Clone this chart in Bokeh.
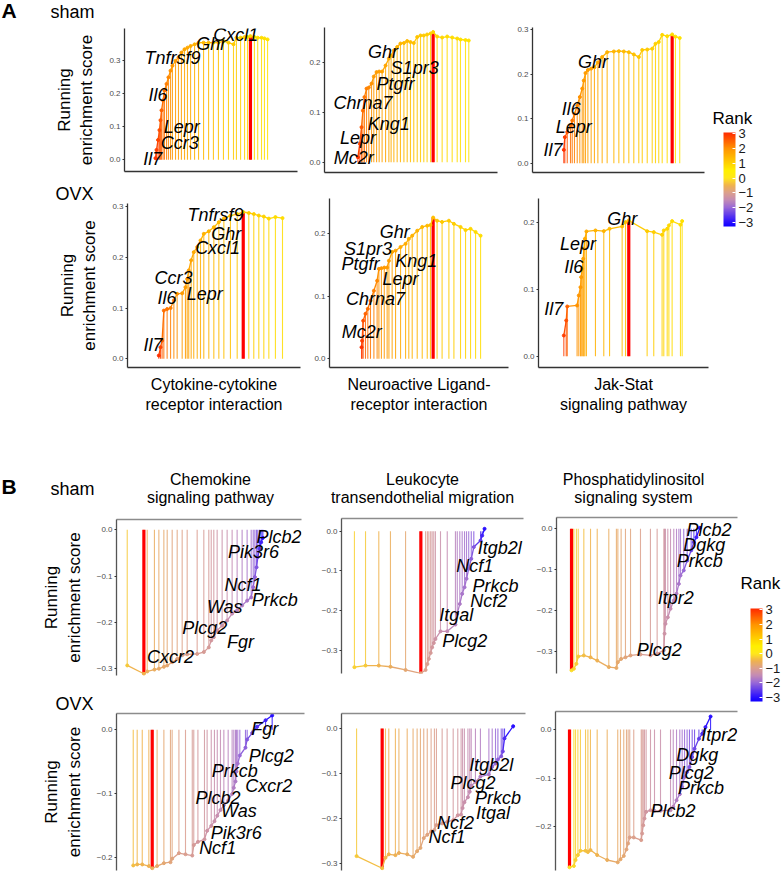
import numpy as np
from bokeh.plotting import figure
from bokeh.models import (ColumnDataSource, LinearColorMapper, ColorBar, FixedTicker,
                          Label, LabelSet, Range1d)
from bokeh.layouts import row, column
from bokeh.core.properties import value
from bokeh.embed import file_html
from bokeh.resources import INLINE

FONT = "Liberation Sans"
MINUS = "\u2212"

# ---------------- data (x = position along ranked list, % ; es = running ES ; rank = colour value)
A1_x = [17.9,18.5,19.4,20.2,20.8,21.4,22.3,23.1,24.3,25.4,26.6,27.7,29.5,31.2,32.9,34.7,36.4,38.2,40.5,42.8,45.7,48.6,51.4,54.3,57.2,60.1,63.0,64.7,67.1,69.4,71.1,72.8,75.1,77.0,79.2,80.9,82.7]
A1_es = [0.005,0.03,0.06,0.09,0.12,0.15,0.18,0.21,0.23,0.25,0.27,0.285,0.30,0.31,0.325,0.335,0.34,0.345,0.35,0.355,0.355,0.355,0.355,0.355,0.36,0.355,0.35,0.37,0.37,0.372,0.372,0.375,0.372,0.37,0.37,0.368,0.365]
A1_rank = [3.0,2.9,2.8,2.7,2.6,2.5,2.4,2.3,2.2,2.1,2.0,1.95,1.9,1.85,1.8,1.7,1.65,1.6,1.5,1.45,1.4,1.35,1.3,1.25,1.2,1.15,1.1,1.05,1.0,0.95,0.9,0.9,0.85,0.8,0.8,0.75,0.7]
A1_genes = ["Il7","Ccr3","Lepr","Il6","Tnfrsf9","Ghr","Cxcl1"]
A1_gx = [16.3,31.9,33.1,19.4,27.7,50.2,64.3]
A1_gy = [0.003,0.051,0.099,0.195,0.31,0.3515,0.379]

A2_x = [19.3,20.4,21.4,22.2,23.1,24.3,25.6,27.2,28.5,30.1,31.6,33.3,35.3,37.2,38.5,40.1,42.0,43.9,45.9,47.8,49.7,51.6,53.6,55.5,57.4,59.3,61.3,62.8,65.1,68.0,70.9,73.8,76.7,78.6,81.5,83.4]
A2_es = [0.010,0.037,0.070,0.103,0.130,0.147,0.149,0.157,0.171,0.180,0.181,0.181,0.193,0.207,0.213,0.223,0.230,0.237,0.238,0.242,0.240,0.238,0.250,0.253,0.253,0.255,0.257,0.260,0.251,0.249,0.251,0.249,0.247,0.245,0.244,0.243]
A2_rank = [3.0,2.8,2.6,2.4,2.3,2.2,2.1,2.0,1.9,1.85,1.8,1.75,1.7,1.65,1.6,1.55,1.5,1.45,1.4,1.35,1.3,1.25,1.2,1.15,1.1,1.05,1.0,1.0,0.95,0.9,0.85,0.8,0.8,0.75,0.7,0.7]
A2_genes = ["Mc2r","Lepr","Kng1","Chrna7","Ptgfr","S1pr3","Ghr"]
A2_gx = [16.9,19.4,37.2,22.3,41.0,52.1,33.8]
A2_gy = [0.008,0.048,0.077,0.118,0.156,0.189,0.22]

A3_x = [18.2,18.8,20.2,22.1,23.1,24.4,26.0,27.5,28.9,29.8,30.8,32.2,34.1,36.0,38.0,40.5,43.4,47.3,50.2,53.1,56.0,58.9,61.8,63.8,66.7,69.6,71.5,73.4,75.4,78.3,81.2,83.1,85.6]
A3_es = [0.03,0.0586,0.070,0.085,0.096,0.111,0.130,0.149,0.168,0.186,0.203,0.210,0.213,0.216,0.227,0.239,0.250,0.2516,0.2523,0.2516,0.250,0.245,0.239,0.255,0.256,0.258,0.269,0.273,0.289,0.286,0.290,0.285,0.282]
A3_rank = [3.0,2.9,2.6,2.4,2.3,2.2,2.1,2.0,1.95,1.9,1.85,1.8,1.75,1.7,1.65,1.6,1.5,1.45,1.4,1.35,1.3,1.25,1.2,1.15,1.1,1.05,1.0,0.95,0.9,0.85,0.8,0.75,0.7]
A3_genes = ["Il7","Lepr","Il6","Ghr"]
A3_gx = [11.9,24.0,22.6,35.2]
A3_gy = [0.0286,0.081,0.122,0.227]

A4_x = [18.1,19.1,20.0,21.0,22.9,24.9,26.8,28.7,31.6,33.5,34.5,35.4,36.8,38.3,40.3,42.2,44.1,47.0,49.9,52.8,55.7,59.5,63.4,66.9,70.1,73.0,75.9,78.8,81.7,85.5,89.6]
A4_es = [0.0065,0.023,0.036,0.095,0.098,0.10,0.115,0.128,0.129,0.141,0.157,0.174,0.194,0.21,0.22,0.233,0.246,0.251,0.259,0.269,0.276,0.282,0.285,0.289,0.287,0.285,0.282,0.28,0.276,0.279,0.277]
A4_rank = [3.0,2.8,2.6,2.4,2.3,2.2,2.1,2.0,1.9,1.85,1.8,1.75,1.7,1.65,1.6,1.55,1.5,1.45,1.4,1.35,1.3,1.25,1.2,1.15,1.1,1.05,1.0,0.95,0.9,0.85,0.8]
A4_genes = ["Il7","Il6","Lepr","Ccr3","Cxcl1","Ghr","Tnfrsf9"]
A4_gx = [14.7,22.9,44.6,26.6,52.1,57.1,50.9]
A4_gy = [0.028,0.12,0.128,0.159,0.219,0.246,0.284]

A5_x = [17.9,18.2,18.8,20.1,21.4,22.9,24.8,26.6,27.6,29.0,30.6,32.2,33.2,35.0,36.9,39.7,42.5,44.3,46.2,49.0,51.8,54.6,56.4,57.9,60.1,62.9,66.7,69.5,73.2,76.0,78.8,81.6,84.4]
A5_es = [0.0186,0.029,0.061,0.072,0.08,0.093,0.109,0.125,0.144,0.145,0.146,0.146,0.157,0.171,0.173,0.179,0.184,0.192,0.197,0.205,0.211,0.213,0.214,0.226,0.221,0.219,0.221,0.216,0.211,0.206,0.208,0.203,0.197]
A5_rank = [3.0,2.9,2.7,2.5,2.4,2.3,2.2,2.1,2.0,1.95,1.9,1.85,1.8,1.75,1.7,1.65,1.6,1.55,1.5,1.45,1.4,1.35,1.3,1.25,1.2,1.15,1.1,1.05,1.0,0.95,0.9,0.85,0.8]
A5_genes = ["Mc2r","Chrna7","Lepr","Ptgfr","Kng1","S1pr3","Ghr"]
A5_gx = [18.0,25.7,39.7,17.3,48.5,21.5,36.4]
A5_gy = [0.043,0.096,0.128,0.151,0.156,0.176,0.203]

A6_x = [14.9,16.3,16.9,22.7,23.7,24.7,25.1,25.7,26.3,26.7,27.3,28.2,33.5,38.4,41.8,49.2,51.2,53.1,63.9,67.8,72.7,73.7,75.7,76.7,78.6,83.5,84.5]
A6_es = [0.031,0.0535,0.0745,0.076,0.091,0.1035,0.1185,0.131,0.146,0.161,0.176,0.187,0.1885,0.1875,0.191,0.1945,0.201,0.2035,0.1874,0.186,0.182,0.1885,0.191,0.196,0.2025,0.197,0.2025]
A6_rank = [2.9,2.7,2.5,2.0,1.95,1.9,1.85,1.8,1.75,1.7,1.65,1.6,1.5,1.45,1.4,1.3,1.25,1.2,1.1,1.05,1.0,0.95,0.9,0.88,0.85,0.8,0.75]
A6_genes = ["Il7","Il6","Lepr","Ghr"]
A6_gx = [9.0,20.8,23.2,49.2]
A6_gy = [0.071,0.133,0.168,0.206]

B7_x = [5.8,14.8,16.6,20.5,22.9,25.6,27.4,30.1,32.8,35.5,38.2,43.6,47.2,49.9,51.2,52.6,54.4,57.1,59.8,62.5,65.2,67.9,70.6,72.8,73.9,74.8,75.7,76.4,77.3,78.2,79.1]
B7_es = [-0.293,-0.311,-0.306,-0.302,-0.300,-0.296,-0.293,-0.286,-0.279,-0.271,-0.269,-0.268,-0.264,-0.254,-0.239,-0.232,-0.2175,-0.207,-0.196,-0.181,-0.174,-0.1635,-0.153,-0.146,-0.124,-0.102,-0.081,-0.059,-0.041,-0.027,-0.0175]
B7_rank = [-0.3,-0.5,-0.6,-0.65,-0.7,-0.75,-0.8,-0.85,-0.9,-0.95,-1.0,-1.05,-1.1,-1.15,-1.2,-1.25,-1.3,-1.35,-1.4,-1.5,-1.6,-1.7,-1.8,-1.9,-2.0,-2.1,-2.2,-2.4,-2.6,-2.8,-3.0]
B7_genes = ["Plcb2","Pik3r6","Ncf1","Prkcb","Was","Plcg2","Fgr","Cxcr2"]
B7_gx = [87.8,74.1,68.4,85.5,58.5,47.7,67.0,29.2]
B7_gy = [-0.016,-0.048,-0.1185,-0.151,-0.166,-0.212,-0.243,-0.275]

B8_x = [7.1,13.2,20.5,26.9,35.2,43.6,46.2,47.2,48.0,49.0,49.8,50.7,51.6,54.4,58.1,62.6,63.6,65.0,66.3,67.6,68.7,69.9,71.3,72.7,76.4,77.3,78.6]
B8_es = [-0.343,-0.339,-0.339,-0.342,-0.350,-0.3586,-0.350,-0.335,-0.322,-0.307,-0.293,-0.282,-0.272,-0.2525,-0.2525,-0.2356,-0.2086,-0.1834,-0.158,-0.1414,-0.120,-0.095,-0.0697,-0.040,-0.0235,-0.011,0.006]
B8_rank = [-0.2,-0.3,-0.5,-0.6,-0.8,-0.9,-1.0,-1.05,-1.1,-1.15,-1.2,-1.25,-1.3,-1.4,-1.5,-1.6,-1.7,-1.75,-1.8,-1.85,-1.9,-2.0,-2.1,-2.2,-2.5,-2.8,-3.0]
B8_genes = ["Itgb2l","Ncf1","Prkcb","Ncf2","Itgal","Plcg2"]
B8_gx = [87.0,73.2,84.6,80.9,63.1,67.7]
B8_gy = [-0.042,-0.089,-0.139,-0.175,-0.211,-0.278]

B9_x = [8.3,9.6,11.0,12.0,15.1,18.8,22.5,28.9,33.1,33.9,35.7,38.1,40.9,46.4,51.9,55.6,59.3,59.7,60.2,61.5,63.0,64.8,66.3,67.6,68.5,70.3,72.2,74.4,75.9,77.3,79.2]
B9_es = [-0.347,-0.343,-0.331,-0.313,-0.3105,-0.315,-0.323,-0.339,-0.341,-0.327,-0.319,-0.315,-0.3105,-0.308,-0.3105,-0.306,-0.298,-0.257,-0.233,-0.217,-0.196,-0.176,-0.159,-0.135,-0.1145,-0.102,-0.078,-0.053,-0.033,-0.0206,0.0025]
B9_rank = [-0.1,-0.2,-0.25,-0.3,-0.4,-0.5,-0.55,-0.65,-0.7,-0.75,-0.8,-0.85,-0.9,-1.0,-1.1,-1.15,-1.2,-1.3,-1.35,-1.4,-1.5,-1.6,-1.7,-1.8,-1.9,-2.0,-2.2,-2.4,-2.6,-2.8,-3.0]
B9_genes = ["Plcb2","Dgkg","Prkcb","Itpr2","Plcg2"]
B9_gx = [84.2,81.7,79.2,65.9,56.8]
B9_gy = [-0.002,-0.039,-0.08,-0.17,-0.296]

B10_x = [8.9,11.0,13.7,17.2,19.0,21.6,25.2,28.7,29.6,33.2,36.7,40.3,41.1,43.3,46.8,48.2,50.4,52.1,53.6,55.3,57.1,59.4,61.5,62.4,63.3,63.8,64.5,65.6,68.6,69.5,72.2,74.8,79.3,82.8]
B10_es = [-0.213,-0.2115,-0.2115,-0.214,-0.2175,-0.214,-0.2095,-0.208,-0.2024,-0.1938,-0.1955,-0.1975,-0.181,-0.176,-0.172,-0.1586,-0.151,-0.1435,-0.1349,-0.126,-0.1183,-0.111,-0.1007,-0.091,-0.081,-0.0654,-0.053,-0.0403,-0.028,-0.0151,-0.005,0.0050,0.0151,0.0227]
B10_rank = [-0.4,-0.45,-0.5,-0.55,-0.6,-0.7,-0.8,-0.85,-0.9,-1.0,-1.05,-1.1,-1.15,-1.2,-1.25,-1.3,-1.35,-1.4,-1.45,-1.5,-1.55,-1.6,-1.65,-1.7,-1.75,-1.8,-1.9,-2.0,-2.1,-2.2,-2.4,-2.6,-2.8,-3.0]
B10_genes = ["Fgr","Plcg2","Prkcb","Cxcr2","Plcb2","Was","Pik3r6","Ncf1"]
B10_gx = [78.8,82.3,62.9,81.0,54.0,65.1,63.7,53.8]
B10_gy = [0.001,-0.0415,-0.065,-0.089,-0.107,-0.128,-0.162,-0.185]

B11_x = [8.2,22.1,23.9,25.7,29.3,31.2,35.7,38.9,41.1,42.9,44.7,46.6,48.7,50.5,51.6,54.7,57.4,60.7,63.2,65.0,65.8,66.8,68.7,69.7,70.5,72.8,75.5,80.1,81.9,83.7,85.0,86.8,87.7,88.6,93.3]
B11_es = [-0.284,-0.311,-0.2875,-0.280,-0.2818,-0.277,-0.280,-0.2855,-0.273,-0.2657,-0.2439,-0.2367,-0.229,-0.2257,-0.2148,-0.2112,-0.2076,-0.204,-0.1931,-0.1916,-0.177,-0.164,-0.153,-0.1406,-0.1275,-0.1188,-0.107,-0.1022,-0.0853,-0.078,-0.069,-0.0619,-0.051,-0.022,0.0051]
B11_rank = [-0.3,-0.4,-0.45,-0.5,-0.55,-0.6,-0.65,-0.7,-0.75,-0.8,-0.85,-0.9,-0.95,-1.0,-1.05,-1.1,-1.15,-1.2,-1.25,-1.3,-1.35,-1.4,-1.45,-1.5,-1.55,-1.6,-1.7,-1.8,-1.9,-2.0,-2.1,-2.2,-2.4,-2.7,-3.0]
B11_genes = ["Itgb2l","Plcg2","Prkcb","Itgal","Ncf2","Ncf1"]
B11_gx = [81.4,71.5,85.0,82.3,62.0,57.4]
B11_gy = [-0.082,-0.122,-0.155,-0.1875,-0.2094,-0.242]

B12_x = [7.7,10.1,11.0,12.3,13.7,16.5,17.8,19.2,22.9,28.4,34.2,35.7,37.5,39.0,39.9,40.8,43.0,47.1,47.6,48.2,48.9,49.8,52.2,54.4,57.7,63.2,64.7,66.5,68.3,69.6,70.9,72.3,73.6,75.1,76.4,78.8,80.6,82.4,85.2]
B12_es = [-0.2834,-0.2807,-0.2684,-0.2582,-0.2494,-0.2494,-0.252,-0.248,-0.2582,-0.2684,-0.2732,-0.267,-0.260,-0.2466,-0.2343,-0.222,-0.222,-0.2275,-0.2139,-0.197,-0.1831,-0.1694,-0.166,-0.1674,-0.1674,-0.166,-0.159,-0.1455,-0.133,-0.118,-0.0977,-0.0874,-0.0772,-0.0567,-0.0396,-0.0191,-0.0089,0.0048,0.0266]
B12_rank = [-0.1,-0.15,-0.2,-0.25,-0.3,-0.35,-0.4,-0.45,-0.5,-0.6,-0.7,-0.75,-0.8,-0.85,-0.9,-0.95,-1.0,-1.05,-1.1,-1.15,-1.2,-1.25,-1.3,-1.35,-1.4,-1.5,-1.6,-1.7,-1.8,-1.9,-2.0,-2.1,-2.2,-2.3,-2.4,-2.5,-2.7,-2.85,-3.0]
B12_genes = ["Itpr2","Dgkg","Plcg2","Prkcb","Plcb2"]
B12_gx = [90.0,77.9,74.6,80.0,64.6]
B12_gy = [-0.0106,-0.0516,-0.0891,-0.1213,-0.1676]

PATHWAYS_A = ["Cytokine-cytokine\nreceptor interaction", "Neuroactive Ligand-\nreceptor interaction", "Jak-Stat\nsignaling pathway"]
PATHWAYS_B = [("Chemokine", "signaling pathway"), ("Leukocyte", "transendothelial migration"),
              ("Phosphatidylinositol", "signaling system")]
RANK_TICKS = [-3, -2, -1, 0, 1, 2, 3]

# ---------------- colour scale
RANK_STOPS = [(-3.3, "#1000FF"), (-3.0, "#2A10FF"), (-2.0, "#9A6AD6"), (-1.5, "#C48CB4"),
              (-1.0, "#DCA08C"), (-0.5, "#F0B24E"), (0.0, "#FFE81A"), (0.5, "#FFF000"),
              (1.0, "#FFD200"), (2.0, "#FF9400"), (3.1, "#FF2A00")]


def make_palette(stops, n=256):
    pos = [s[0] for s in stops]
    rgb = np.array([[int(c[i:i + 2], 16) for i in (1, 3, 5)] for _, c in stops], float)
    out = []
    for v in np.linspace(pos[0], pos[-1], n):
        r, g, b = (np.interp(v, pos, rgb[:, k]) for k in range(3))
        out.append("#%02x%02x%02x" % (int(round(r)), int(round(g)), int(round(b))))
    return out


PALETTE = make_palette(RANK_STOPS)
MAPPER = LinearColorMapper(palette=PALETTE, low=-3.3, high=3.1)
CMAP = dict(field="rank", transform=MAPPER)
LABEL_DY = 7  # compensation for the renderer's baseline placement of free labels


def tick_label(v):
    s = "%.1f" % abs(v)
    return MINUS + s if v < 0 else s


def no_align(p):
    try:
        p.frame_align = False
    except Exception:
        pass


def blank(w, h):
    p = figure(width=w, height=h, min_border_left=0, min_border_right=0, min_border_top=0,
               min_border_bottom=0, x_range=Range1d(0, 1), y_range=Range1d(0, 1),
               x_axis_type=None, y_axis_type=None, output_backend="svg",
               toolbar_location=None, tools="")
    no_align(p)
    p.outline_line_color = None
    p.xgrid.visible = False
    p.ygrid.visible = False
    p.background_fill_color = "white"
    p.border_fill_color = "white"
    return p


def add_text(p, text, x, y, size, bold=False, align="left"):
    p.add_layout(Label(x=x, y=y + LABEL_DY, x_units="screen", y_units="screen", text=text,
                       text_font=FONT, text_font_size=size,
                       text_font_style="bold" if bold else "normal",
                       text_align=align, text_baseline="alphabetic", text_color="black"))


def panel(xs, es, rk, genes, gx, gy, yr, yticks, geom, part, xlabel=None, ylabel=False):
    W, H, L, R, T, B = geom
    n = min(len(xs), len(es), len(rk))
    xs, es, rk = list(xs[:n]), list(es[:n]), list(rk[:n])
    p = figure(width=W, height=H, min_border_left=L, min_border_right=R,
               min_border_top=T, min_border_bottom=B,
               x_range=Range1d(0, 100), y_range=Range1d(*yr),
               output_backend="svg", toolbar_location=None, tools="",
               x_axis_location="above" if part == "B" else "below")
    no_align(p)
    p.outline_line_color = None
    p.xgrid.visible = False
    p.ygrid.visible = False
    p.background_fill_color = "white"
    p.border_fill_color = "white"

    ax = p.xaxis[0]
    ax.ticker = FixedTicker(ticks=[])
    ax.major_tick_line_color = None
    ax.minor_tick_line_color = None
    if part == "A":
        ax.axis_line_color = "#333333"
        ax.axis_line_width = 1.3
    else:
        ax.axis_line_color = "#8c8c8c"
        ax.axis_line_width = 1.6
    if xlabel:
        ax.axis_label = xlabel
        ax.axis_label_text_font = FONT
        ax.axis_label_text_font_size = "16px"
        ax.axis_label_text_font_style = "normal"
        ax.axis_label_text_color = "black"
        ax.axis_label_standoff = 8

    ay = p.yaxis[0]
    ay.ticker = FixedTicker(ticks=yticks)
    ay.major_label_overrides = {v: tick_label(v) for v in yticks}
    ay.axis_line_color = "#333333" if part == "A" else "#555555"
    ay.axis_line_width = 1.3
    ay.major_tick_line_color = "#333333"
    ay.major_tick_out = 2
    ay.major_tick_in = 0
    ay.minor_tick_line_color = None
    ay.major_label_text_font = FONT
    ay.major_label_text_font_size = "8px"
    ay.major_label_text_color = "#4D4D4D"
    ay.major_label_standoff = 2
    if ylabel:
        ay.axis_label = "Running\nenrichment score"
        ay.axis_label_text_font = FONT
        ay.axis_label_text_font_size = "17px"
        ay.axis_label_text_font_style = "normal"
        ay.axis_label_text_color = "black"
        ay.axis_label_standoff = 10

    src = ColumnDataSource(dict(x=xs, es=es, rank=rk, zero=[0.0] * n))
    p.segment("x", "zero", "x", "es", source=src, line_color=CMAP, line_width=1.1, line_alpha=0.85)
    i = int(np.argmax(es)) if part == "A" else int(np.argmin(es))
    lead = ColumnDataSource(dict(x=[xs[i]], zero=[0.0], es=[es[i]]))
    p.segment("x", "zero", "x", "es", source=lead, line_color="#FF0000", line_width=3.2)
    csrc = ColumnDataSource(dict(x0=xs[:-1], y0=es[:-1], x1=xs[1:], y1=es[1:], rank=rk[1:]))
    p.segment("x0", "y0", "x1", "y1", source=csrc, line_color=CMAP, line_width=1.3)
    p.scatter("x", "es", source=src, size=3.0, fill_color=CMAP, line_color=CMAP)

    gsrc = ColumnDataSource(dict(gx=gx, gy=gy, gene=genes))
    p.add_layout(LabelSet(x="gx", y="gy", text="gene", source=gsrc,
                          text_font=value(FONT), text_font_size="18px", text_font_style="italic",
                          text_align="center", text_baseline="middle", text_color="black"))
    return p


def add_colorbar(p, x, y, w, h):
    cb = ColorBar(color_mapper=MAPPER, location=(x, y), width=w, height=h, padding=0,
                  orientation="vertical", title=None,
                  ticker=FixedTicker(ticks=RANK_TICKS),
                  major_label_overrides={t: (MINUS + str(-t)) if t < 0 else str(t) for t in RANK_TICKS},
                  major_label_text_font=FONT, major_label_text_font_size="13px",
                  major_label_text_color="#1a1a1a", label_standoff=3,
                  major_tick_line_color="white", major_tick_in=3, major_tick_out=0,
                  minor_tick_line_color=None, bar_line_color=None, border_line_color=None,
                  background_fill_alpha=0)
    p.add_layout(cb)


T3 = [0.0, 0.1, 0.2, 0.3]
T2 = [0.0, 0.1, 0.2]
N3 = [-0.3, -0.2, -0.1, 0.0]
N2 = [-0.2, -0.1, 0.0]

# ---------------- block A  (geometry: width, height, left, right, top, bottom)
hdrA = blank(305, 24)
add_text(hdrA, "A", 1, 7, "21px", bold=True)
add_text(hdrA, "sham", 50, 6, "18px")
pA1 = panel(A1_x, A1_es, A1_rank, A1_genes, A1_gx, A1_gy, (-0.0355, 0.398), T3, (305, 159, 124, 8, 4, 12), "A", ylabel=True)
hdrAO = blank(305, 19)
add_text(hdrAO, "OVX", 55, 2, "18px")
pA4 = panel(A4_x, A4_es, A4_rank, A4_genes, A4_gx, A4_gy, (-0.017, 0.3057), T3, (305, 216, 127, 5, 1, 51), "A", xlabel=PATHWAYS_A[0], ylabel=True)

pA2 = panel(A2_x, A2_es, A2_rank, A2_genes, A2_gx, A2_gy, (-0.0206, 0.269), T2, (207, 183, 19, 15, 27, 11), "A")
pA5 = panel(A5_x, A5_es, A5_rank, A5_genes, A5_gx, A5_gy, (-0.0139, 0.2565), T2, (207, 235, 24, 4, 15, 51), "A", xlabel=PATHWAYS_A[1])
pA3 = panel(A3_x, A3_es, A3_rank, A3_genes, A3_gx, A3_gy, (-0.021, 0.3056), T3, (200, 183, 20, 8, 27, 11), "A")
pA6 = panel(A6_x, A6_es, A6_rank, A6_genes, A6_gx, A6_gy, (-0.017, 0.2364), T2, (200, 235, 26, 4, 15, 51), "A", xlabel=PATHWAYS_A[2])

legA = blank(70, 418)
add_colorbar(legA, 11, 192, 12, 94)
add_text(legA, "Rank", 0, 293, "17px")

# ---------------- block B
hdrB1 = blank(316, 92)
add_text(hdrB1, "B", 1, 17, "21px", bold=True)
add_text(hdrB1, "sham", 50, 15, "18px")
add_text(hdrB1, PATHWAYS_B[0][0], 210, 24, "16px", align="center")
add_text(hdrB1, PATHWAYS_B[0][1], 210, 6, "16px", align="center")
pB7 = panel(B7_x, B7_es, B7_rank, B7_genes, B7_gx, B7_gy, (-0.3147, 0.0222), N3, (316, 178, 116, 15, 9, 13), "B", ylabel=True)
hdrBO = blank(316, 24)
add_text(hdrBO, "OVX", 55, 2, "18px")
pB10 = panel(B10_x, B10_es, B10_rank, B10_genes, B10_gx, B10_gy, (-0.221, 0.0257), N2, (316, 160, 116, 12, 1, 2), "B", ylabel=True)

hdrB2 = blank(214, 92)
add_text(hdrB2, PATHWAYS_B[1][0], 422 - 316, 24, "16px", align="center")
add_text(hdrB2, PATHWAYS_B[1][1], 422 - 316, 6, "16px", align="center")
pB8 = panel(B8_x, B8_es, B8_rank, B8_genes, B8_gx, B8_gy, (-0.359, 0.032), N3, (214, 178, 25, 7, 8, 15), "B")
pB11 = panel(B11_x, B11_es, B11_rank, B11_genes, B11_gx, B11_gy, (-0.316, 0.0334), N3, (214, 184, 25, 5, 25, 2), "B")

hdrB3 = blank(209, 92)
add_text(hdrB3, PATHWAYS_B[2][0], 633 - 530, 24, "16px", align="center")
add_text(hdrB3, PATHWAYS_B[2][1], 633 - 530, 6, "16px", align="center")
pB9 = panel(B9_x, B9_es, B9_rank, B9_genes, B9_gx, B9_gy, (-0.3547, 0.0277), N3, (209, 178, 26, 2, 7, 15), "B")
pB12 = panel(B12_x, B12_es, B12_rank, B12_genes, B12_gx, B12_gy, (-0.29, 0.0369), N2, (209, 184, 25, 2, 23, 2), "B")

legB = blank(43, 454)
add_colorbar(legB, 11, 454 - (701 - 418), 12, 93)
add_text(legB, "Rank", 1, 454 - (590 - 418), "17px")

layout = column(
    row(column(hdrA, pA1, hdrAO, pA4), column(pA2, pA5), column(pA3, pA6), legA),
    row(column(hdrB1, pB7, hdrBO, pB10), column(hdrB2, pB8, pB11), column(hdrB3, pB9, pB12), legB),
)

open("out.html", "w").write(file_html(layout, INLINE, title="GSEA running enrichment"))
